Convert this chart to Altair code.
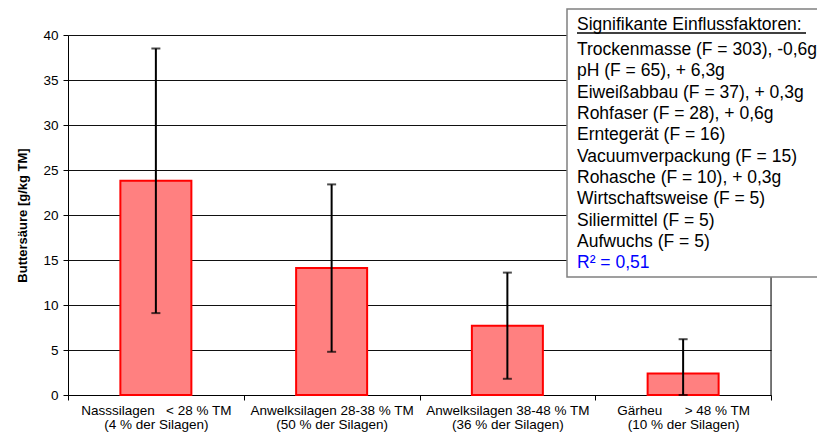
import altair as alt
import pandas as pd

# ---- data ----
categories = [
    "Nasssilagen\u00a0\u00a0\u00a0< 28 % TM\u00a0\u00a0\n(4 % der Silagen)",
    "Anwelksilagen 28-38 % TM\n(50 % der Silagen)",
    "Anwelksilagen 38-48 % TM\n(36 % der Silagen)",
    "Gärheu\u00a0\u00a0\u00a0\u00a0\u00a0\u00a0> 48 % TM\u00a0\u00a0\u00a0\u00a0\u00a0\n(10 % der Silagen)",
]
means = [23.8, 14.1, 7.7, 2.4]
err_low = [9.1, 4.8, 1.8, 0.0]
err_high = [38.5, 23.4, 13.6, 6.2]
y_ticks = [0, 5, 10, 15, 20, 25, 30, 35, 40]
y_title = "Buttersäure [g/kg TM]"

legend_title = "Signifikante Einflussfaktoren:"
legend_lines = [
    "Trockenmasse (F = 303), -0,6g",
    "pH (F = 65), + 6,3g",
    "Eiweißabbau (F = 37), + 0,3g",
    "Rohfaser (F = 28), + 0,6g",
    "Erntegerät (F = 16)",
    "Vacuumverpackung (F = 15)",
    "Rohasche (F = 10), + 0,3g",
    "Wirtschaftsweise (F = 5)",
    "Siliermittel (F = 5)",
    "Aufwuchs (F = 5)",
]
legend_r2 = "R² = 0,51"

df = pd.DataFrame({"cat": categories, "mean": means, "lo": err_low, "hi": err_high})

FONT = "Liberation Sans"
W, H = 703, 360

x_scale = alt.Scale(paddingInner=0, paddingOuter=0)
y_scale = alt.Scale(domain=[0, 40], nice=False, zero=True)

x_axis = alt.Axis(
    title=None, labelAngle=0, labelExpr="split(datum.label, '\\n')",
    labelFont=FONT, labelFontSize=13.5, labelColor="#000", labelLineHeight=14.5,
    labelLimit=400, labelPadding=3, tickBand="extent", tickSize=5,
    tickColor="#000", domainColor="#000", grid=False,
)
y_axis = alt.Axis(
    values=y_ticks, title=y_title, titleFont=FONT, titleFontSize=13,
    titleFontWeight="bold", titleColor="#000", titleX=-46, titleY=H / 2,
    titleAngle=270, titleAlign="center", titleBaseline="middle",
    labelFont=FONT, labelFontSize=13.5, labelColor="#000", labelPadding=5,
    tickSize=5, tickColor="#000", domainColor="#000",
    grid=True, gridColor="#111", gridOpacity=1, gridWidth=1,
)

base = alt.Chart(df)

bars = base.mark_bar(
    width=alt.RelativeBandSize(0.404), fill="#FF8080", stroke="#FF0000", strokeWidth=2
).encode(
    x=alt.X("cat:N", sort=categories, scale=x_scale, axis=x_axis),
    y=alt.Y("mean:Q", scale=y_scale, axis=y_axis, title=y_title),
)

err = base.mark_rule(color="#000", strokeWidth=2).encode(
    x=alt.X("cat:N", sort=categories, scale=x_scale, axis=x_axis),
    y=alt.Y("lo:Q", scale=y_scale, axis=y_axis, title=y_title),
    y2="hi:Q",
)
cap_hi = base.mark_tick(color="#000", thickness=2, size=9).encode(
    x=alt.X("cat:N", sort=categories, scale=x_scale, axis=x_axis),
    y=alt.Y("hi:Q", scale=y_scale, axis=y_axis, title=y_title),
)
cap_lo = base.mark_tick(color="#000", thickness=2, size=9).encode(
    x=alt.X("cat:N", sort=categories, scale=x_scale, axis=x_axis),
    y=alt.Y("lo:Q", scale=y_scale, axis=y_axis, title=y_title),
)

one = alt.Data(values=[{"k": 1}])
right_border = alt.Chart(one).mark_rule(color="#000", strokeWidth=1).encode(
    x=alt.value(W), y=alt.value(0), y2=alt.value(H)
)

box = alt.Chart(one).mark_rect(fill="white", stroke="#808080", strokeWidth=1.5).encode(
    x=alt.value(499), x2=alt.value(790), y=alt.value(-26), y2=alt.value(242)
)

title_txt = alt.Chart(pd.DataFrame({"t": [legend_title]})).mark_text(
    align="left", baseline="alphabetic", font=FONT, fontSize=17.5, color="#000"
).encode(x=alt.value(509), y=alt.value(-5), text="t:N")

underline = alt.Chart(one).mark_rule(color="#000", strokeWidth=1.3).encode(
    x=alt.value(509), x2=alt.value(738), y=alt.value(-2)
)

lines_txt = alt.Chart(pd.DataFrame({"t": ["\n".join(legend_lines)]})).mark_text(
    align="left", baseline="alphabetic", font=FONT, fontSize=17.5, color="#000",
    lineBreak="\n", lineHeight=21.33,
).encode(x=alt.value(509), y=alt.value(20), text="t:N")

r2_txt = alt.Chart(pd.DataFrame({"t": [legend_r2]})).mark_text(
    align="left", baseline="alphabetic", font=FONT, fontSize=17.5, color="#0000FF"
).encode(x=alt.value(509), y=alt.value(233.3), text="t:N")

chart = alt.layer(
    bars, err, cap_hi, cap_lo, right_border, box, title_txt, underline, lines_txt, r2_txt
).properties(
    width=W, height=H,
    autosize=alt.AutoSizeParams(type="none"),
    padding={"left": 60, "top": 27, "right": 46, "bottom": 38},
).configure_view(stroke="transparent").configure(background="white")

chart.save("out.html", embed_options={"renderer": "svg", "actions": False})
